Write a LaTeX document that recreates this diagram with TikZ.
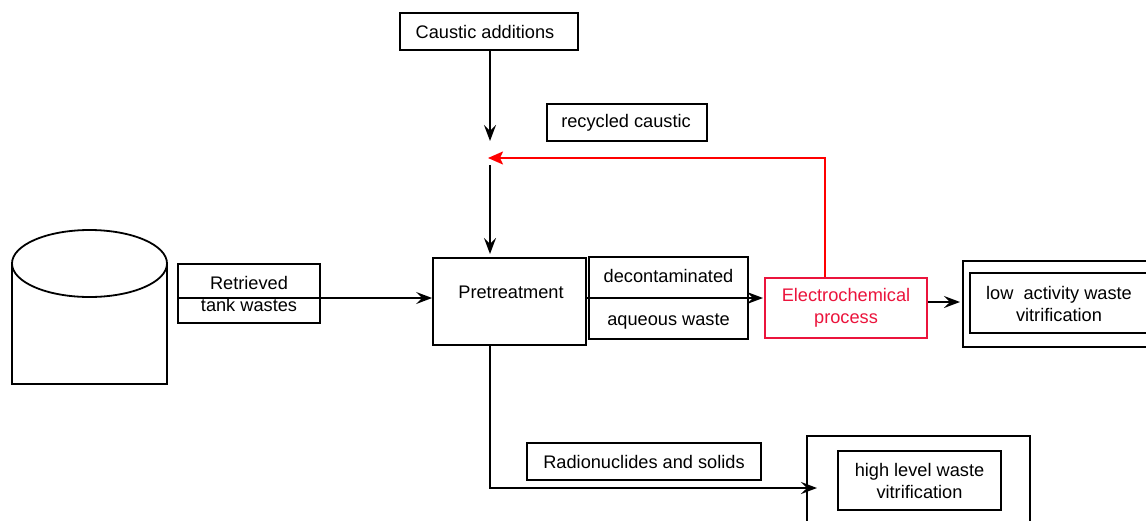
\documentclass[tikz,border=0pt]{standalone}
\usepackage{fontspec}
\setmainfont{Liberation Sans}
\usetikzlibrary{arrows.meta}
\definecolor{ecred}{RGB}{235,20,60}
\begin{document}
\begin{tikzpicture}[x=1pt,y=-1pt,
  box/.style={draw,line width=1.8pt,inner sep=0pt,minimum width=#1},
  txt/.style={font=\fontsize{18.2}{22}\selectfont,align=center,inner sep=0pt},
  flow/.style={line width=1.8pt,-{Stealth[length=16pt,width=12pt,inset=6pt]}},
  redflow/.style={line width=1.8pt,draw=red,-{Stealth[length=15pt,width=13pt,inset=3pt]}}]
\useasboundingbox (0,0) rectangle (1146,520);
\clip (0,0) rectangle (1146,520);
\fill[white] (0,0) rectangle (1146,520);
% tank
\draw[line width=1.8pt,fill=white] (12,263.5) -- (12,384) -- (167,384) -- (167,263.5);
\draw[line width=1.8pt,fill=white] (89.5,263.5) ellipse [x radius=77.5, y radius=33.5];
% boxes
\node[box=142pt,minimum height=59pt] (ret) at (249,293.5) {};
\node[txt] (rett) at (249,294) {Retrieved\\tank wastes};
\node[box=153pt,minimum height=87pt] (pre) at (509.5,301.5) {};
\node[txt] (pret) at (511,292) {Pretreatment};
\node[box=159pt,minimum height=82pt] (dec) at (668.5,298) {};
\node[txt] (dect1) at (668.5,276) {decontaminated};
\node[txt] (dect2) at (668.5,321) {aqueous waste};
\node[box=162pt,minimum height=60pt,draw=ecred] (ec) at (846,308) {};
\node[txt,text=ecred] (ect) at (846,308) {Electrochemical\\process};
\node[box=190pt,minimum height=86pt] (low) at (1058,304) {};
\node[box=180pt,minimum height=60pt] (lowin) at (1060,303) {};
\node[txt] (lowt) at (1059,304) {low\ \ activity waste\\vitrification};
\node[box=178pt,minimum height=37pt] (caus) at (489,31.5) {};
\node[txt] (caust) at (485,32) {Caustic additions};
\node[box=160pt,minimum height=37pt] (rec) at (627,122.5) {};
\node[txt] (rect) at (626,123) {recycled caustic};
\node[box=234pt,minimum height=37pt] (rad) at (644,461.5) {};
\node[txt] (radt) at (644,462) {Radionuclides and solids};
\node[box=223pt,minimum height=100pt] (high) at (918.5,486) {};
\node[box=163pt,minimum height=59pt] (highin) at (919.5,480.5) {};
\node[txt] (hight) at (919.5,481) {high level waste\\vitrification};
% junction points
\coordinate (j1) at (490,141);
\coordinate (j2) at (488,158);
\coordinate (j3) at (490,165);
\coordinate (hin) at (817,488);
% connectors
\draw[flow] (caus.south -| j1) -- (j1);
\draw[flow] (j3) -- (j3 |- 0,254);
\draw[redflow] (ec.north -| 825,0) -- (825,158) -- (j2);
\draw[flow] (ret.west |- 0,298) -- (pre.west |- 0,298);
\draw[flow] (pre.east |- 0,298) -- (763,298);
\draw[flow] (ec.east |- 0,302) -- (960,302);
\draw[flow] (pre.south -| j1) -- (490,488) -- (hin);
\end{tikzpicture}
\end{document}
